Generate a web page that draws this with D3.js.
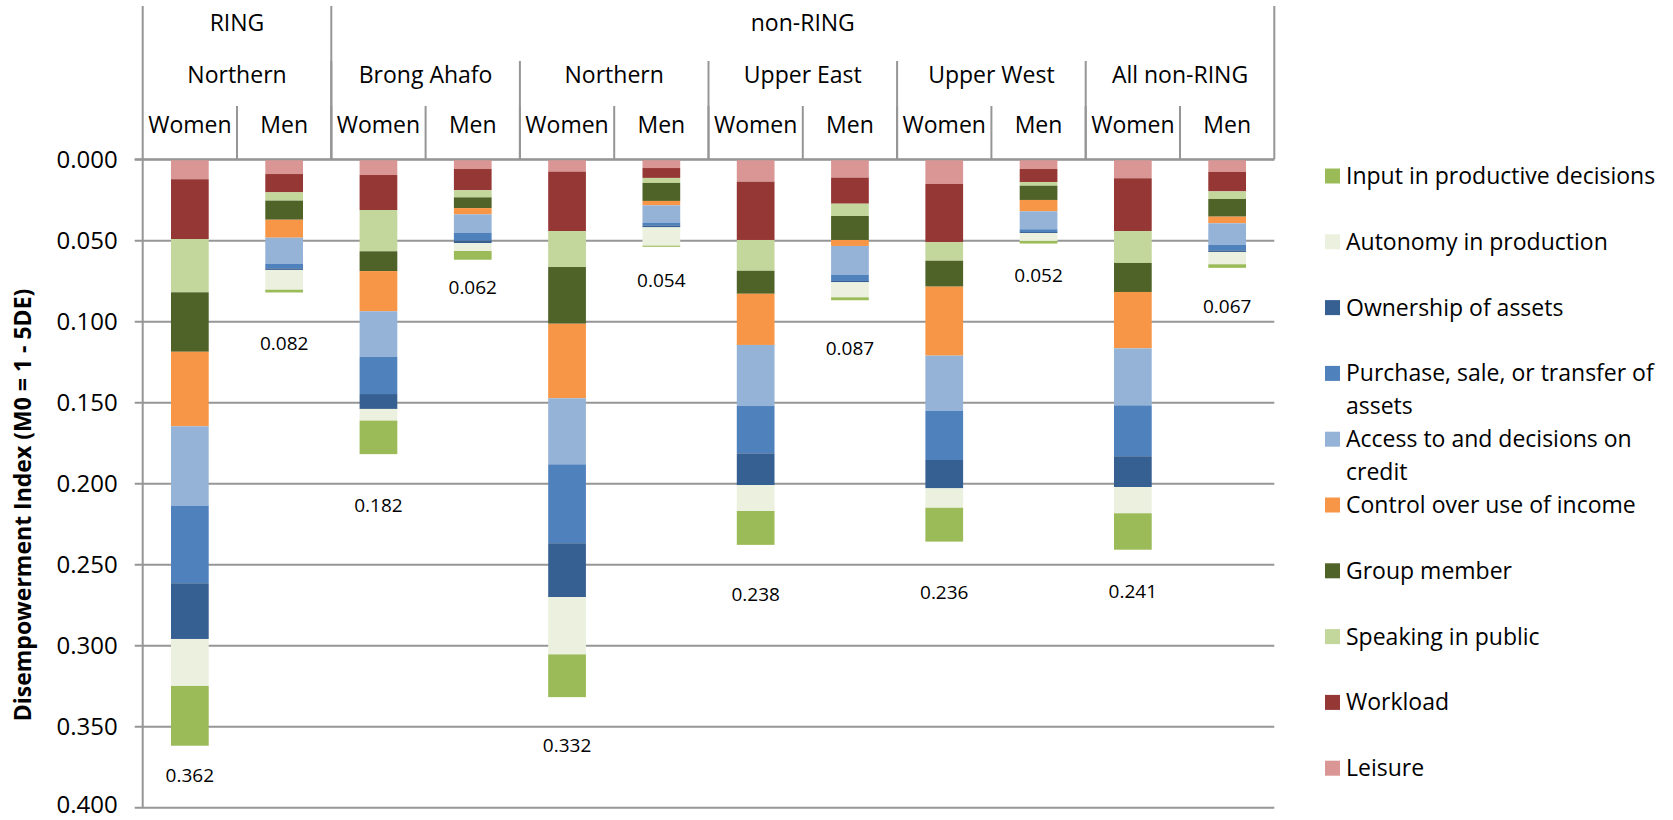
<!DOCTYPE html>
<html>
<head>
<meta charset="utf-8">
<script src="https://cdn.jsdelivr.net/npm/d3@7"></script>
<style>
  body { margin: 0; background: #fff; }
  svg { display: block; }
  text { font-family: "Open Sans", sans-serif; fill: #000; }
</style>
</head>
<body>
<svg id="chart" width="1673" height="820"></svg>
<script>
// ---- Categories (one bar each) ----
const sexes = ["Women", "Men", "Women", "Men", "Women", "Men", "Women", "Men", "Women", "Men", "Women", "Men"];
const regions = ["Northern", "Brong Ahafo", "Northern", "Upper East", "Upper West", "All non-RING"];
const regionProgramme = ["RING", "non-RING", "non-RING", "non-RING", "non-RING", "non-RING"];

// ---- Contributions to M0 by indicator (bar order as above) ----
const leisure   = [0.0123, 0.0091, 0.0097, 0.0060, 0.0076, 0.0054, 0.0138, 0.0113, 0.0152, 0.0060, 0.0117, 0.0078];
const workload  = [0.0369, 0.0113, 0.0216, 0.0131, 0.0367, 0.0061, 0.0360, 0.0161, 0.0360, 0.0080, 0.0326, 0.0120];
const speaking  = [0.0329, 0.0051, 0.0255, 0.0044, 0.0222, 0.0031, 0.0190, 0.0076, 0.0114, 0.0023, 0.0197, 0.0047];
const groupMem  = [0.0367, 0.0118, 0.0122, 0.0066, 0.0350, 0.0111, 0.0142, 0.0148, 0.0160, 0.0088, 0.0179, 0.0109];
const control   = [0.0460, 0.0111, 0.0248, 0.0039, 0.0460, 0.0027, 0.0316, 0.0037, 0.0426, 0.0070, 0.0348, 0.0041];
const credit    = [0.0492, 0.0160, 0.0282, 0.0113, 0.0408, 0.0107, 0.0377, 0.0179, 0.0340, 0.0111, 0.0352, 0.0134];
const purchase  = [0.0477, 0.0029, 0.0229, 0.0049, 0.0487, 0.0017, 0.0292, 0.0037, 0.0304, 0.0017, 0.0314, 0.0033];
const ownership = [0.0344, 0.0010, 0.0092, 0.0015, 0.0332, 0.0012, 0.0196, 0.0008, 0.0175, 0.0006, 0.0190, 0.0010];
const autonomy  = [0.0290, 0.0122, 0.0072, 0.0049, 0.0354, 0.0113, 0.0160, 0.0093, 0.0120, 0.0049, 0.0162, 0.0076];
const inputProd = [0.0369, 0.0017, 0.0207, 0.0054, 0.0264, 0.0007, 0.0209, 0.0018, 0.0209, 0.0016, 0.0225, 0.0022];

// ---- Y axis ticks ----
const yTicks = [0, 0.05, 0.10, 0.15, 0.20, 0.25, 0.30, 0.35, 0.40];

// Indicators in stacking order (top of the column first)
const indicators = [
  { key: "leisure",   name: ["Leisure"],                                  values: leisure,   color: "#D99694" },
  { key: "workload",  name: ["Workload"],                                 values: workload,  color: "#953735" },
  { key: "speaking",  name: ["Speaking in public"],                       values: speaking,  color: "#C3D69B" },
  { key: "groupMem",  name: ["Group member"],                             values: groupMem,  color: "#4F6228" },
  { key: "control",   name: ["Control over use of income"],               values: control,   color: "#F79646" },
  { key: "credit",    name: ["Access to and decisions on", "credit"],     values: credit,    color: "#95B3D7" },
  { key: "purchase",  name: ["Purchase, sale, or transfer of", "assets"], values: purchase,  color: "#4F81BD" },
  { key: "ownership", name: ["Ownership of assets"],                      values: ownership, color: "#376092" },
  { key: "autonomy",  name: ["Autonomy in production"],                   values: autonomy,  color: "#EBF1DE" },
  { key: "inputProd", name: ["Input in productive decisions"],            values: inputProd, color: "#9BBB59" }
];

// Table for d3.stack
const table = sexes.map((s, i) => {
  const row = { idx: i };
  indicators.forEach(ind => { row[ind.key] = ind.values[i]; });
  return row;
});
const series = d3.stack().keys(indicators.map(d => d.key))(table);
const totals = table.map(r => d3.sum(indicators, ind => r[ind.key]));

// ---- Layout ----
const W = 820;
const svg = d3.select("#chart");
const plotLeft = 142.7, plotRight = 1274.3, plotTop = 159.3, plotBottom = 807.3;
const headerTop = 6, regionLineTop = 61, sexLineTop = 106;
const gridColor = "#969696";

const x = d3.scaleBand().domain(d3.range(sexes.length))
  .range([plotLeft, plotRight]).paddingInner(0.6).paddingOuter(0.3);
const y = d3.scaleLinear().domain([0, 0.4]).range([plotTop, plotBottom]);
const step = x.step();
const edge = i => plotLeft + i * step;

// Gridlines + ticks
const yAxis = d3.axisLeft(y).tickValues(yTicks).tickSize(-(plotRight - plotLeft)).tickFormat(d3.format(".3f"));
const gAxis = svg.append("g").attr("transform", `translate(${plotLeft},0)`).call(yAxis);
gAxis.select(".domain").remove();
gAxis.selectAll(".tick line").attr("stroke", gridColor).attr("stroke-width", 2).attr("x1", -8);
gAxis.selectAll(".tick text").attr("x", -25).attr("dy", "0.36em")
  .style("font-size", "24px").style("font-family", "'Open Sans', sans-serif").attr("fill", "#000")
  // keep the lowest label inside the page
  .attr("y", d => Math.min(0, W - 8 - (y(d) + 8.64)));

// Left axis line (continues up through the header)
svg.append("line").attr("x1", plotLeft).attr("x2", plotLeft).attr("y1", headerTop).attr("y2", plotBottom)
  .attr("stroke", gridColor).attr("stroke-width", 2);

// Bars
const gBars = svg.append("g");
series.forEach((s, k) => {
  gBars.append("g").attr("fill", indicators[k].color)
    .selectAll("rect").data(s).join("rect")
    .attr("x", (d, i) => x(i))
    .attr("width", x.bandwidth())
    .attr("y", d => y(d[0]))
    .attr("height", d => Math.max(0, y(d[1]) - y(d[0])));
});

// Total labels below each column
const labelGap = [29, 51, 51, 27, 48, 33, 49, 48, 50, 31, 41, 38];
svg.append("g").selectAll("text").data(totals).join("text")
  .attr("x", (d, i) => x(i) + x.bandwidth() / 2)
  .attr("y", (d, i) => y(d) + labelGap[i] + 7)
  .attr("text-anchor", "middle")
  .style("font-size", "19px")
  .text(d => d3.format(".3f")(d));

// ---- Multi-level category header ----
const gHead = svg.append("g");
const vline = (xx, top) => gHead.append("line").attr("x1", xx).attr("x2", xx)
  .attr("y1", top).attr("y2", plotTop).attr("stroke", gridColor).attr("stroke-width", 2);

// sex level
sexes.forEach((s, i) => {
  if (i > 0) vline(edge(i), sexLineTop);
  gHead.append("text").attr("x", edge(i) + step / 2).attr("y", 133)
    .attr("text-anchor", "middle").style("font-size", "23px").text(s);
});
// region level
regions.forEach((r, j) => {
  if (j > 0) vline(edge(j * 2), regionLineTop);
  gHead.append("text").attr("x", edge(j * 2) + step).attr("y", 83)
    .attr("text-anchor", "middle").style("font-size", "23px").text(r);
});
// programme level
const programmes = Array.from(d3.group(regions.map((r, j) => ({ j, p: regionProgramme[j] })), d => d.p),
  ([p, arr]) => ({ p, first: arr[0].j * 2, last: arr[arr.length - 1].j * 2 + 2 }));
programmes.forEach(pr => {
  vline(edge(pr.last), headerTop);
  gHead.append("text").attr("x", (edge(pr.first) + edge(pr.last)) / 2).attr("y", 31)
    .attr("text-anchor", "middle").style("font-size", "23px").text(pr.p);
});
gHead.append("line").attr("x1", plotLeft - 8).attr("x2", plotRight).attr("y1", plotTop).attr("y2", plotTop)
  .attr("stroke", gridColor).attr("stroke-width", 2);

// ---- Y axis title ----
svg.append("text")
  .attr("transform", "translate(31,505) rotate(-90)")
  .attr("text-anchor", "middle")
  .style("font-size", "23px").style("font-weight", "bold")
  .text("Disempowerment Index (M0 = 1 - 5DE)");

// ---- Legend ----
const legendItems = indicators.slice().reverse();
const gLeg = svg.append("g").attr("transform", "translate(1325,176)");
legendItems.forEach((ind, i) => {
  const g = gLeg.append("g").attr("transform", `translate(0,${i * 65.8})`);
  g.append("rect").attr("x", 0).attr("y", -7.5).attr("width", 15).attr("height", 15).attr("fill", ind.color);
  ind.name.forEach((line, l) => {
    g.append("text").attr("x", 21).attr("y", 8 + l * 33).style("font-size", "23px").text(line);
  });
});
</script>
</body>
</html>
